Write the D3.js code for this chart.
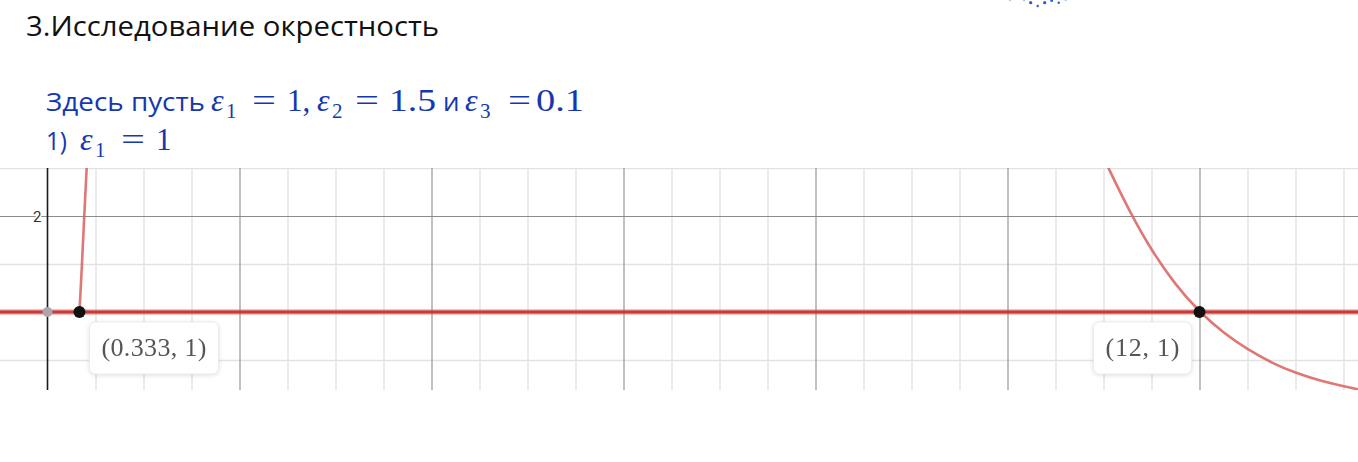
<!DOCTYPE html>
<html><head><meta charset="utf-8">
<script src="https://cdn.jsdelivr.net/npm/d3@7"></script>
<style>
html,body{margin:0;padding:0;background:#fff;}
svg{display:block;}
.lbl{filter:drop-shadow(0 1px 2px rgba(0,0,0,0.12));}
</style></head>
<body>
<svg id="c" width="1358" height="462"></svg>
<script>
// ---- data ----
const epsLine = [{x:-0.5, y:1}, {x:13.7, y:1}];            // y = 1 line
const curveLeft = [{x:0.333,y:1},{x:0.359,y:1.5},{x:0.383,y:2},{x:0.408,y:2.5},{x:0.42,y:2.75}];
const curveRight = [{x:10.95,y:2.72},{x:11.05,y:2.5},{x:11.27,y:2.05},{x:11.5,y:1.64},{x:11.75,y:1.28},{x:12,y:1},
                    {x:12.25,y:0.78},{x:12.5,y:0.61},{x:12.75,y:0.47},{x:13,y:0.365},{x:13.25,y:0.285},{x:13.5,y:0.225},{x:13.7,y:0.185}];
const grayPoints = [{x:0, y:1}];
const blackPoints = [{x:0.333, y:1, label:"(0.333, 1)", side:"right"},
                     {x:12, y:1, label:"(12, 1)", side:"left"}];
const xMajorGrid = [2,4,6,8,10,12];
const xMinorGrid = [0.5,1,1.5,2.5,3,3.5,4.5,5,5.5,6.5,7,7.5,8.5,9,9.5,10.5,11,11.5,12.5,13,13.5];
const yMajorGrid = [1,2];
const yMinorGrid = [0.5,1.5,2.5];
const yTickLabels = [2];
const spinnerDots = [{x:1030.7,y:2.7,r:1.6,o:1},{x:1037.7,y:6,r:1.2,o:1},{x:1044.7,y:2.7,r:1.6,o:1},{x:1051.7,y:0.7,r:1.4,o:1},
                     {x:1058.7,y:2.7,r:1.2,o:1},{x:1010,y:0,r:1.2,o:0.35},{x:1024,y:0,r:1.2,o:0.4},{x:1065.7,y:0,r:1.2,o:0.35}];

// ---- layout ----
const svg = d3.select("#c");
svg.append("rect").attr("width",1358).attr("height",462).attr("fill","#fff");

const plot = {left:0, right:1358, top:168, bottom:390};
const x = d3.scaleLinear().domain([0,12]).range([47.5,1199.5]);
const y = d3.scaleLinear().domain([1,2]).range([312,216]);

const defs = svg.append("defs");
defs.append("clipPath").attr("id","clip").append("rect")
  .attr("x",plot.left).attr("y",plot.top).attr("width",plot.right-plot.left).attr("height",plot.bottom-plot.top);

const g = svg.append("g").attr("clip-path","url(#clip)");
const H = plot.bottom-plot.top, W = plot.right-plot.left;

// minor grid
g.append("g").attr("transform",`translate(0,${plot.bottom})`)
  .call(d3.axisBottom(x).tickValues(xMinorGrid).tickSize(-H).tickFormat(""))
  .call(s=>{s.select(".domain").remove(); s.selectAll("line").attr("stroke","#e3e3e3").attr("stroke-width",1.4);});
g.append("g").attr("transform",`translate(${plot.left},0)`)
  .call(d3.axisLeft(y).tickValues(yMinorGrid).tickSize(-W).tickFormat(""))
  .call(s=>{s.select(".domain").remove(); s.selectAll("line").attr("stroke","#e3e3e3").attr("stroke-width",1.4);});
// major grid
g.append("g").attr("transform",`translate(0,${plot.bottom})`)
  .call(d3.axisBottom(x).tickValues(xMajorGrid).tickSize(-H).tickFormat(""))
  .call(s=>{s.select(".domain").remove(); s.selectAll("line").attr("stroke","#8c8c8c").attr("stroke-width",1.1);});
g.append("g").attr("transform",`translate(${plot.left},0)`)
  .call(d3.axisLeft(y).tickValues(yMajorGrid).tickSize(-W).tickFormat(""))
  .call(s=>{s.select(".domain").remove(); s.selectAll("line").attr("stroke","#8c8c8c").attr("stroke-width",1.1);});

// y axis
g.append("line").attr("x1",x(0)).attr("x2",x(0)).attr("y1",plot.top).attr("y2",plot.bottom)
  .attr("stroke","#1a1a1a").attr("stroke-width",1.6);

// tick labels
svg.selectAll("text.yt").data(yTickLabels).join("text").attr("class","yt")
  .attr("x",x(0)-6).attr("y",d=>y(d)+5.5).attr("text-anchor","end")
  .attr("font-family","Roboto, 'Open Sans', sans-serif").attr("font-size",15).attr("fill","#333")
  .attr("stroke","#fff").attr("stroke-width",3).attr("paint-order","stroke").text(d=>d);

const line = d3.line().x(d=>x(d.x)).y(d=>y(d.y));
const smooth = d3.line().x(d=>x(d.x)).y(d=>y(d.y)).curve(d3.curveBasis);

// curves
g.append("path").datum(curveLeft).attr("d",line).attr("fill","none")
  .attr("stroke","#d9605c").attr("stroke-opacity",0.85).attr("stroke-width",2.6);
g.append("path").datum(curveRight).attr("d",smooth).attr("fill","none")
  .attr("stroke","#d9605c").attr("stroke-opacity",0.85).attr("stroke-width",2.6);

// y = 1 line
g.append("path").datum(epsLine).attr("d",line).attr("fill","none")
  .attr("stroke","#d96a67").attr("stroke-opacity",0.55).attr("stroke-width",5.5);
g.append("path").datum(epsLine).attr("d",line).attr("fill","none")
  .attr("stroke","#c93a36").attr("stroke-width",3.2);

// points
g.selectAll("circle.gp").data(grayPoints).join("circle").attr("class","gp")
  .attr("cx",d=>x(d.x)).attr("cy",d=>y(d.y)).attr("r",5).attr("fill","#a9a9a9");
g.selectAll("circle.bp").data(blackPoints).join("circle").attr("class","bp")
  .attr("cx",d=>x(d.x)).attr("cy",d=>y(d.y)).attr("r",6).attr("fill","#111");

// labels
const labelW = {"(0.333, 1)":129, "(12, 1)":98};
const textW = {"(0.333, 1)":105, "(12, 1)":74};
blackPoints.forEach(p=>{
  const px = x(p.x), py = y(p.y);
  const w = labelW[p.label], h = 52;
  const bx = p.side==="right" ? px+10 : px-8-w;
  const by = py+10;
  const lg = svg.append("g").attr("class","lbl");
  lg.append("rect").attr("x",bx).attr("y",by).attr("width",w).attr("height",h).attr("rx",6)
    .attr("fill","#fff").attr("stroke","#ececec").attr("stroke-width",1);
  lg.append("text").attr("x",bx+w/2-textW[p.label]/2).attr("y",by+34)
    .attr("font-family","'Liberation Serif','DejaVu Serif',serif").attr("font-size",26).attr("fill","#555")
    .attr("textLength",textW[p.label]).attr("lengthAdjust","spacing").text(p.label);
});

// spinner fragment
svg.selectAll("circle.sp").data(spinnerDots).join("circle").attr("class","sp")
  .attr("cx",d=>d.x).attr("cy",d=>d.y).attr("r",d=>d.r).attr("fill","#2a5bd7").attr("fill-opacity",d=>d.o);

// heading texts
svg.append("text").attr("x",26).attr("y",36).attr("font-family","'Open Sans','Noto Sans',sans-serif")
  .attr("font-size",27).attr("fill","#111").attr("textLength",413).attr("lengthAdjust","spacingAndGlyphs")
  .text("3.Исследование окрестность");

const blue = "#1538b0";
const sans = "'Open Sans','Noto Sans',sans-serif", serif = "'Liberation Serif','DejaVu Serif',serif";
const pieces = [
  // line 1
  {t:"Здесь пусть", x:46, y:111, f:sans, s:26, len:159},
  {t:"ε", x:211, y:111, f:serif, s:32, it:true},
  {t:"1", x:226, y:118, f:serif, s:21},
  {t:"=", x:252, y:111, f:serif, s:31, len:24},
  {t:"1,", x:287, y:111, f:serif, s:31},
  {t:"ε", x:317, y:111, f:serif, s:32, it:true},
  {t:"2", x:332, y:118, f:serif, s:21},
  {t:"=", x:355, y:111, f:serif, s:31, len:24},
  {t:"1.5", x:389, y:111, f:serif, s:31, len:47},
  {t:"и", x:443, y:111, f:sans, s:26},
  {t:"ε", x:465, y:111, f:serif, s:32, it:true},
  {t:"3", x:480, y:118, f:serif, s:21},
  {t:"=", x:508, y:111, f:serif, s:31, len:23},
  {t:"0.1", x:536, y:111, f:serif, s:31, len:48},
  // line 2
  {t:"1)", x:46, y:150, f:sans, s:26, len:21},
  {t:"ε", x:80, y:150, f:serif, s:32, it:true},
  {t:"1", x:95, y:157, f:serif, s:21},
  {t:"=", x:121, y:150, f:serif, s:31, len:24},
  {t:"1", x:156, y:150, f:serif, s:31}
];
pieces.forEach(p=>{
  const t = svg.append("text").attr("x",p.x).attr("y",p.y).attr("font-family",p.f).attr("font-size",p.s)
    .attr("fill",blue).text(p.t);
  if(p.it) t.attr("font-style","italic");
  if(p.len) t.attr("textLength",p.len).attr("lengthAdjust","spacingAndGlyphs");
});
</script>
</body></html>
